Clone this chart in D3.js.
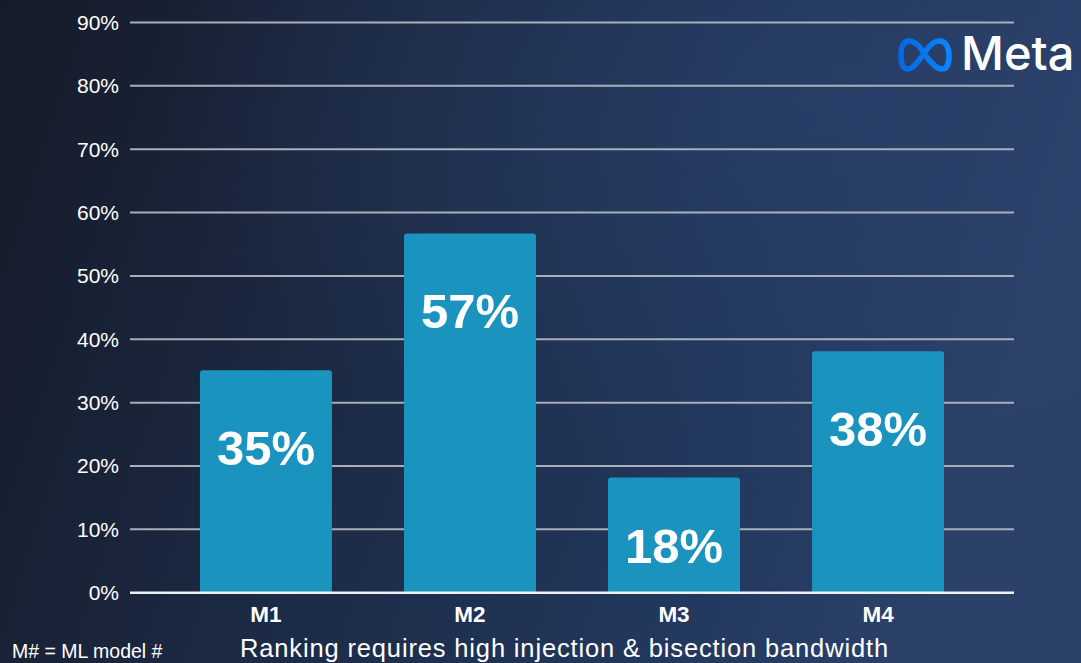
<!DOCTYPE html>
<html>
<head>
<meta charset="utf-8">
<script src="https://cdn.jsdelivr.net/npm/d3@7"></script>
<style>
  html, body { margin: 0; padding: 0; background: #1a2438; }
  svg { display: block; font-family: "Liberation Sans", Arial, sans-serif; }
</style>
</head>
<body>
<div id="chart"></div>
<script>
var models = ["M1", "M2", "M3", "M4"];
var shares = [35.1, 56.7, 18.2, 38.1];
var shareLabels = ["35%", "57%", "18%", "38%"];
var yTicks = [0, 10, 20, 30, 40, 50, 60, 70, 80, 90];

var width = 1081, height = 663;

var svg = d3.select("#chart").append("svg")
  .attr("width", width)
  .attr("height", height);

var defs = svg.append("defs");

// background
var bg = defs.append("linearGradient").attr("id", "bg")
  .attr("x1", "0%").attr("y1", "0%").attr("x2", "100%").attr("y2", "20%");
bg.append("stop").attr("offset", "0%").attr("stop-color", "#151b29");
bg.append("stop").attr("offset", "35%").attr("stop-color", "#1b2840");
bg.append("stop").attr("offset", "75%").attr("stop-color", "#22375c");
bg.append("stop").attr("offset", "100%").attr("stop-color", "#2b4169");

var glow = defs.append("radialGradient").attr("id", "glow")
  .attr("cx", "75%").attr("cy", "15%").attr("r", "60%");
glow.append("stop").attr("offset", "0%").attr("stop-color", "#2c4370").attr("stop-opacity", 0.55);
glow.append("stop").attr("offset", "100%").attr("stop-color", "#2c4370").attr("stop-opacity", 0);

var logoGrad = defs.append("linearGradient").attr("id", "logo")
  .attr("x1", "0%").attr("y1", "0%").attr("x2", "100%").attr("y2", "0%");
logoGrad.append("stop").attr("offset", "0%").attr("stop-color", "#0668e1");
logoGrad.append("stop").attr("offset", "100%").attr("stop-color", "#0a84ff");

svg.append("rect").attr("width", width).attr("height", height).attr("fill", "url(#bg)");
svg.append("rect").attr("width", width).attr("height", height).attr("fill", "url(#glow)");

var x = d3.scaleBand()
  .domain(models)
  .range([130, 1014])
  .paddingInner(0.353)
  .paddingOuter(0.343);

var y = d3.scaleLinear()
  .domain([0, 90])
  .range([592.7, 22.5]);

// gridlines
svg.append("g")
  .selectAll("line")
  .data(yTicks.filter(function(d){ return d > 0 }))
  .enter().append("line")
    .attr("x1", 130).attr("x2", 1014)
    .attr("y1", function(d){ return y(d) })
    .attr("y2", function(d){ return y(d) })
    .attr("stroke", "#a9afba")
    .attr("stroke-width", 2);

// tick labels
svg.append("g")
  .selectAll("text")
  .data(yTicks)
  .enter().append("text")
    .attr("x", 119)
    .attr("y", function(d){ return y(d) + 7.5 })
    .attr("text-anchor", "end")
    .attr("fill", "#ffffff")
    .attr("font-size", 21)
    .text(function(d){ return d + "%" });

// bars
svg.append("g")
  .selectAll("rect")
  .data(shares)
  .enter().append("rect")
    .attr("x", function(d, i){ return x(models[i]) })
    .attr("y", function(d){ return y(d) })
    .attr("width", x.bandwidth())
    .attr("height", function(d){ return y(0) - y(d) })
    .attr("rx", 3)
    .attr("fill", "#1a94bf");

// baseline
svg.append("line")
  .attr("x1", 130).attr("x2", 1014)
  .attr("y1", y(0)).attr("y2", y(0))
  .attr("stroke", "#eef1f5")
  .attr("stroke-width", 2.5);

// value labels
svg.append("g")
  .selectAll("text")
  .data(shares)
  .enter().append("text")
    .attr("x", function(d, i){ return x(models[i]) + x.bandwidth() / 2 })
    .attr("y", function(d){ return Math.min(y(d) + 95, y(0) - 30) })
    .attr("text-anchor", "middle")
    .attr("fill", "#ffffff")
    .attr("font-size", 49)
    .attr("font-weight", "bold")
    .text(function(d, i){ return shareLabels[i] });

// category labels
svg.append("g")
  .selectAll("text")
  .data(models)
  .enter().append("text")
    .attr("x", function(d){ return x(d) + x.bandwidth() / 2 })
    .attr("y", 622)
    .attr("text-anchor", "middle")
    .attr("fill", "#ffffff")
    .attr("font-size", 22.5)
    .attr("font-weight", "bold")
    .text(function(d){ return d });

// footnote + caption
svg.append("text")
  .attr("x", 12).attr("y", 658)
  .attr("fill", "#ffffff")
  .attr("font-size", 19.5)
  .text("M# = ML model #");

svg.append("text")
  .attr("x", 240).attr("y", 657)
  .attr("fill", "#ffffff")
  .attr("font-size", 25.5)
  .attr("letter-spacing", 0.85)
  .text("Ranking requires high injection & bisection bandwidth");

// Meta logo
var logo = svg.append("g").attr("transform", "translate(898,38)");
logo.append("path")
  .attr("d", "M27,17 C21,6 16,3 11,3 C5,3 3,10 3,18 C3,27 6,31 10,31 C15,31 20,24 27,14 C34,4 38,3 42,3 C48,3 51,10 51,18 C51,27 48,31 44,31 C39,31 34,26 27,17 Z")
  .attr("fill", "none")
  .attr("stroke", "url(#logo)")
  .attr("stroke-width", 5.5)
  .attr("stroke-linejoin", "round");

svg.append("text")
  .attr("x", 961).attr("y", 70)
  .attr("fill", "#ffffff")
  .attr("font-size", 47)
  .attr("font-family", "Inter, 'Liberation Sans', sans-serif")
  .attr("font-weight", 500)
  .text("Meta");
</script>
</body>
</html>
